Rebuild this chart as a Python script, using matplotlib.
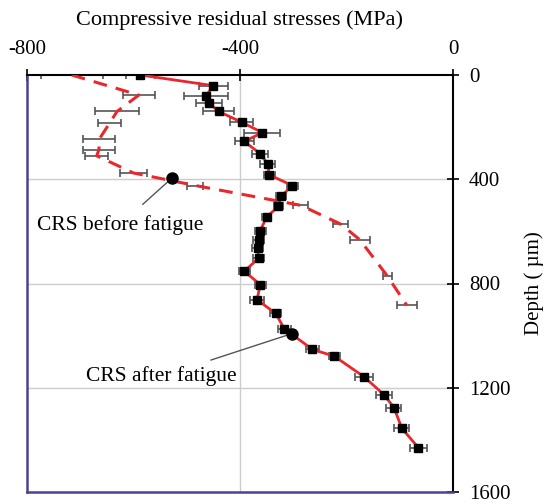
import matplotlib
matplotlib.use("Agg")
import matplotlib.pyplot as plt

plt.rcParams['font.family'] = ['Liberation Serif', 'DejaVu Serif']
plt.rcParams['axes.unicode_minus'] = False

# CRS after fatigue (solid, squares)
after_depth = [0, 41, 80, 108, 140, 181, 221, 255, 302, 342, 383, 424, 466, 504, 545,
               597, 632, 664, 703, 753, 804, 862, 915, 973, 1053, 1079, 1158, 1228,
               1276, 1356, 1430]
after_crs = [-587, -450, -464, -458, -440, -397, -358, -392, -362, -348, -345, -302,
             -323, -328, -350, -362, -365, -367, -365, -392, -362, -368, -333, -317,
             -264, -223, -167, -129, -111, -96, -65]
after_err = [27, 27, 41, 25, 29, 22, 34, 18, 15, 14, 10, 10, 9, 9, 9, 10, 10, 10, 10,
             10, 10, 14, 10, 12, 12, 10, 17, 15, 14, 14, 16]

# CRS before fatigue (dashed)
before_depth = [0, 77, 140, 185, 245, 287, 310, 376, 424, 500, 572, 632, 772, 883]
before_crs = [-716, -590, -631, -645, -664, -665, -669, -600, -484, -286, -211, -175,
              -123, -87]
before_err = [58, 30, 41, 22, 30, 30, 22, 26, 15, 14, 14, 19, 8, 19]

# annotation anchors (x, depth) and text positions
before_anchor = (-528, 396)
before_text = (-625, 574)
after_anchor = (-302, 992)
after_text = (-548, 1156)

x_ticks = [-800, -400, 0]
y_ticks = [0, 400, 800, 1200, 1600]

red = '#e8282d'
err_col = '#555555'
spine_col = '#4a4294'

fig = plt.figure(figsize=(5.46, 5.04), dpi=100)
ax = fig.add_axes([27/546, 1-492/504, 426/546, 417/504])

ax.set_xlim(-800, 0)
ax.set_ylim(1600, 0)

for v in [-400]:
    ax.axvline(v, color='#cccccc', lw=1, zorder=0)
for d in [400, 800, 1200]:
    ax.axhline(d, color='#cccccc', lw=1, zorder=0)

ax.errorbar(before_crs, before_depth, xerr=before_err, fmt='none', ecolor=err_col,
            elinewidth=1.2, capsize=3, capthick=1.2, zorder=2)
ax.plot(before_crs, before_depth, color=red, lw=2.2, dashes=(4.5, 3), zorder=3)

ax.errorbar(after_crs, after_depth, xerr=after_err, fmt='none', ecolor=err_col,
            elinewidth=1.2, capsize=3, capthick=1.2, zorder=2)
ax.plot(after_crs, after_depth, color=red, lw=2, marker='s', markersize=5.5,
        markerfacecolor='black', markeredgecolor='black', zorder=4)

ax.plot([before_anchor[0]], [before_anchor[1]], 'o', color='black', markersize=8, zorder=5)
ax.plot([after_anchor[0]], [after_anchor[1]], 'o', color='black', markersize=8, zorder=5)

ax.annotate('CRS before fatigue', xy=before_anchor, xytext=before_text,
            ha='center', va='center', fontsize=15.5,
            arrowprops=dict(arrowstyle='-', color='#555555', lw=1,
                            shrinkA=8, shrinkB=3))
ax.annotate('CRS after fatigue', xy=after_anchor, xytext=after_text,
            ha='center', va='center', fontsize=15.5,
            arrowprops=dict(arrowstyle='-', color='#555555', lw=1,
                            shrinkA=8, shrinkB=3))

ax.xaxis.tick_top()
ax.xaxis.set_label_position('top')
ax.set_xticks(x_ticks)
ax.set_xticklabels([str(v) for v in x_ticks])
ax.yaxis.tick_right()
ax.yaxis.set_label_position('right')
ax.set_yticks(y_ticks)
ax.set_yticklabels([str(v) for v in y_ticks])

ax.tick_params(axis='x', direction='inout', length=9, width=1.2, labelsize=15, pad=7)
ax.tick_params(axis='y', direction='inout', length=9, width=1.2, labelsize=15, pad=7)

ax.set_xlabel('Compressive residual stresses (MPa)', fontsize=16, labelpad=11)
ax.set_ylabel('Depth ( µm)', fontsize=15, labelpad=10, rotation=90)

ax.spines['top'].set_color('black')
ax.spines['right'].set_color('black')
ax.spines['top'].set_linewidth(1.5)
ax.spines['right'].set_linewidth(1.5)
ax.spines['left'].set_color(spine_col)
ax.spines['bottom'].set_color(spine_col)
ax.spines['left'].set_linewidth(1.8)
ax.spines['bottom'].set_linewidth(1.8)

fig.savefig('out.png', dpi=100)
